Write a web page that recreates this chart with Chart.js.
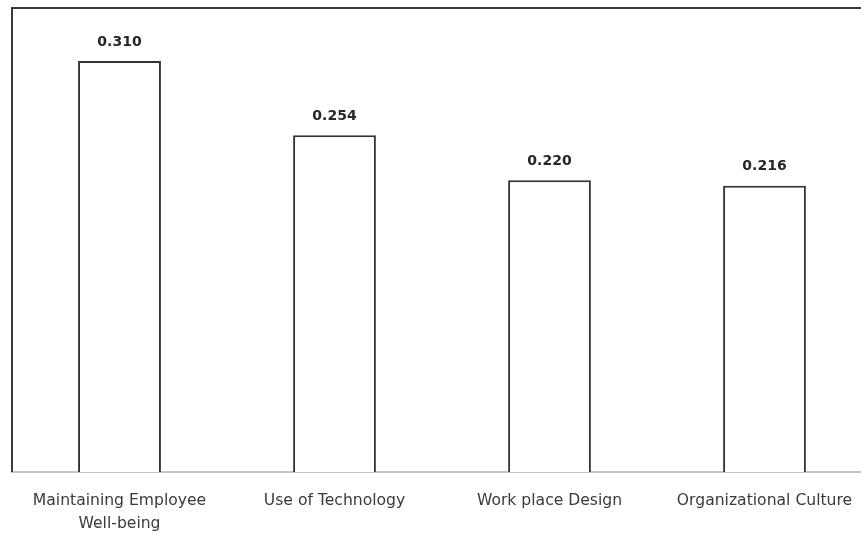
<!DOCTYPE html>
<html lang="en"><head>
<title>Workplace factors</title>
<meta charset="utf-8">
<style type="text/css">
html, body { margin:0; padding:0; background:#ffffff; overflow:hidden; }
#chart1 { width:875px; height:534px; }
</style>
<script src="https://cdn.jsdelivr.net/npm/chart.js@4"></script>
<script>
// factor names (multi-line labels are arrays) and their weights
categories=[["Maintaining Employee","Well-being"],"Use of Technology","Work place Design","Organizational Culture"];
weights=[0.310,0.254,0.220,0.216];
yMax=0.350;

// value printed above each bar
valueLabels={id:'valueLabels',
  afterDatasetsDraw(chart) {
    ctx=chart.ctx; meta=chart.getDatasetMeta(0);
    ctx.save();
    ctx.font="bold 14px 'DejaVu Sans'"; ctx.fillStyle="#262626";
    ctx.textAlign="center"; ctx.textBaseline="middle";
    meta.data.forEach(function(bar,i){
      ctx.fillText(weights[i].toFixed(3),bar.x,bar.y-19); });
    ctx.restore(); }};

// top and left edge of the plot frame
frame={id:'frame',
  beforeDatasetsDraw(chart) {
    ctx=chart.ctx; a=chart.chartArea;
    ctx.save();
    ctx.strokeStyle="#3a3a3a"; ctx.lineWidth=2;
    ctx.beginPath();
    ctx.moveTo(a.left,a.bottom); ctx.lineTo(a.left,a.top); ctx.lineTo(a.right+10,a.top);
    ctx.stroke();
    ctx.restore(); }};

function initChart() {
  config={type:'bar',
    data:{labels:categories,datasets:[{
      data:weights,
      backgroundColor:'#ffffff',borderColor:'#333333',borderWidth:2,
      categoryPercentage:1.0,barPercentage:0.385}]},
    options:{
      responsive:true,maintainAspectRatio:false,animation:false,
      layout:{padding:{left:12,top:8,right:3,bottom:0}},
      plugins:{legend:{display:false},tooltip:{enabled:false}},
      scales:{
        x:{grid:{display:false,drawTicks:false},
          border:{display:true,color:'#c6c6c6',width:2},
          ticks:{color:'#3a3a3a',padding:17.5,font:{family:"'DejaVu Sans'",size:15.6,lineHeight:1.48}},
          afterFit:function(s){ s.height=62; }},
        y:{display:false,min:0,max:yMax}}},
    plugins:[frame,valueLabels]};
  myChart=new Chart(document.getElementById('myChart'),config); }
</script></head>
<body onload="initChart();">
<div id="chart1">
  <canvas id="myChart"></canvas>
</div>
</body></html>
